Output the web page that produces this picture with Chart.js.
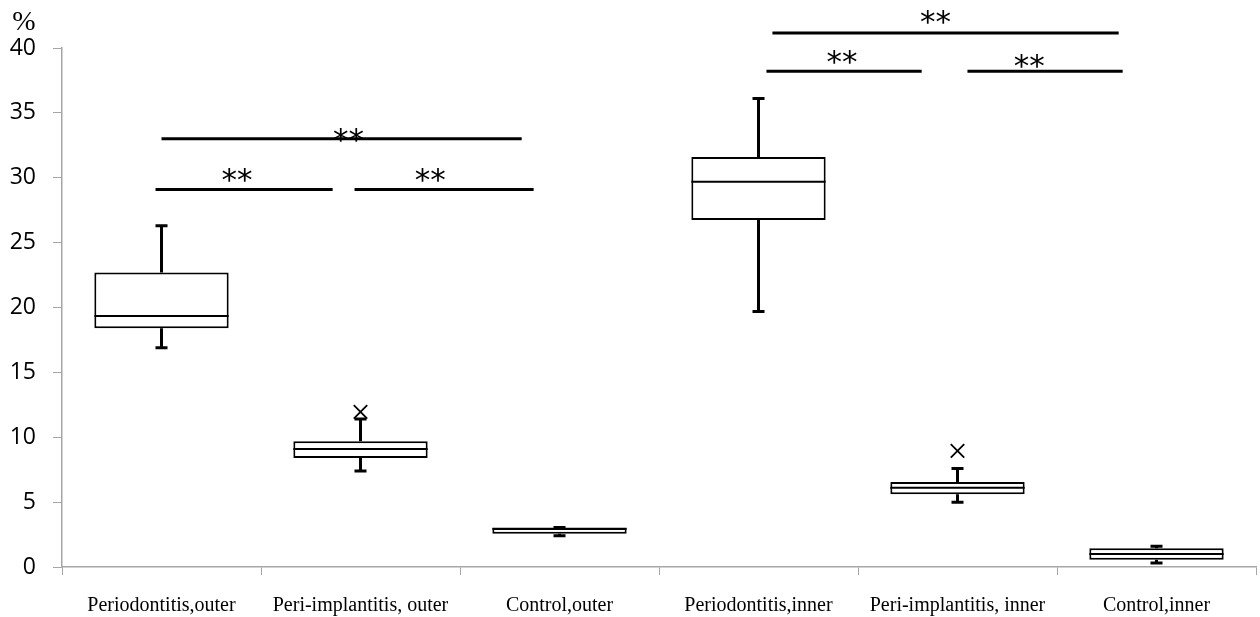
<!DOCTYPE html>
<html>
<head>
<meta charset="UTF-8">
<title>Box plot</title>
<script src="https://cdn.jsdelivr.net/npm/chart.js@4.4.1/dist/chart.umd.min.js"></script>
<style>
  html, body { margin: 0; padding: 0; background: #fff; }
  #wrap { width: 1260px; height: 617px; }
</style>
</head>
<body>
<div id="wrap"><canvas id="myChart" width="1260" height="617"></canvas></div>
<script>
var categories = ['Periodontitis,outer', 'Peri-implantitis, outer', 'Control,outer',
                  'Periodontitis,inner', 'Peri-implantitis, inner', 'Control,inner'];
var whiskerLow  = [16.9, 7.4, 2.4, 19.7, 5.0, 0.3];
var q1          = [18.4, 8.4, 2.57, 26.75, 5.6, 0.55];
var median      = [19.35, 9.1, 2.95, 29.7, 6.1, 1.0];
var q3          = [22.7, 9.7, 3.0, 31.6, 6.55, 1.45];
var whiskerHigh = [26.3, 11.4, 3.05, 36.1, 7.6, 1.6];
var outliers    = [null, 11.95, null, null, 8.95, null];
var yTicks      = [0, 5, 10, 15, 20, 25, 30, 35, 40];

// significance lines: from / to (category index), level, star position
var sigFrom  = [-0.03, 0.97, 0.0, 3.04, 4.05, 3.07];
var sigTo    = [0.86, 1.87, 1.81, 3.82, 4.83, 4.81];
var sigLevel = [29.1, 29.1, 33.0, 38.2, 38.2, 41.15];
var sigStarX = [0.38, 1.35, 0.94, 3.42, 4.36, 3.89];
var sigStarY = [30.1, 30.1, 33.2, 39.2, 38.9, 42.3];
var sigText  = ['**', '**', '**', '**', '**', '**'];

var boxes = categories.map(function (c, i) { return [q1[i], q3[i]]; });

var boxPlugin = {
  id: 'boxExtras',
  afterDatasetsDraw: function (chart) {
    var ctx = chart.ctx, x = chart.scales.x, y = chart.scales.y;
    var bar = chart.getDatasetMeta(0).data;
    ctx.save();
    ctx.strokeStyle = '#000';
    for (var i = 0; i < categories.length; i++) {
      var cx = x.getPixelForValue(i);
      var half = bar[i].width / 2;
      // whiskers
      ctx.lineWidth = 3;
      ctx.beginPath();
      ctx.moveTo(cx, y.getPixelForValue(q3[i]));
      ctx.lineTo(cx, y.getPixelForValue(whiskerHigh[i]));
      ctx.moveTo(cx, y.getPixelForValue(q1[i]));
      ctx.lineTo(cx, y.getPixelForValue(whiskerLow[i]));
      ctx.moveTo(cx - 6, y.getPixelForValue(whiskerHigh[i]));
      ctx.lineTo(cx + 6, y.getPixelForValue(whiskerHigh[i]));
      ctx.moveTo(cx - 6, y.getPixelForValue(whiskerLow[i]));
      ctx.lineTo(cx + 6, y.getPixelForValue(whiskerLow[i]));
      ctx.stroke();
      // median
      ctx.lineWidth = 2;
      ctx.beginPath();
      ctx.moveTo(cx - half, y.getPixelForValue(median[i]));
      ctx.lineTo(cx + half, y.getPixelForValue(median[i]));
      ctx.stroke();
    }
    // significance lines
    ctx.lineWidth = 3;
    ctx.fillStyle = '#000';
    ctx.font = '31px "DejaVu Sans"';
    ctx.textAlign = 'center';
    ctx.textBaseline = 'middle';
    for (var k = 0; k < sigFrom.length; k++) {
      var ly = y.getPixelForValue(sigLevel[k]);
      ctx.beginPath();
      ctx.moveTo(x.getPixelForValue(sigFrom[k]), ly);
      ctx.lineTo(x.getPixelForValue(sigTo[k]), ly);
      ctx.stroke();
      ctx.fillText(sigText[k], x.getPixelForValue(sigStarX[k]), y.getPixelForValue(sigStarY[k]) + 6);
    }
    // unit label
    ctx.font = '28px "Liberation Serif"';
    ctx.textAlign = 'center';
    ctx.fillText('%', y.right - 38, y.top - 25);
    ctx.restore();
  }
};

var ctx = document.getElementById('myChart').getContext('2d');
var chart = new Chart(ctx, {
  type: 'bar',
  data: {
    labels: categories,
    datasets: [{
      data: boxes,
      backgroundColor: '#fff',
      borderColor: '#000',
      borderWidth: 2,
      borderSkipped: false,
      barPercentage: 0.675,
      categoryPercentage: 1
    }, {
      type: 'line',
      data: outliers,
      showLine: false,
      pointStyle: 'crossRot',
      pointRadius: 9.5,
      pointBorderWidth: 1.8,
      pointBorderColor: '#000',
      pointBackgroundColor: '#000'
    }]
  },
  options: {
    responsive: false,
    animation: false,
    layout: { autoPadding: false, padding: { top: 48, right: 4, left: 0, bottom: 0 } },
    plugins: { legend: { display: false }, tooltip: { enabled: false } },
    scales: {
      x: {
        grid: { drawOnChartArea: false, tickLength: 8, color: '#a6a6a6', offset: true },
        border: { color: '#a6a6a6', width: 1.5 },
        ticks: { color: '#000', font: { family: 'Liberation Serif', size: 20 }, padding: 19, maxRotation: 0 },
        afterFit: function (s) { s.height = 50; s.paddingLeft = 0; s.paddingRight = 0; }
      },
      y: {
        min: 0,
        max: 40,
        afterBuildTicks: function (s) { s.ticks = yTicks.map(function (v) { return { value: v }; }); },
        grid: { drawOnChartArea: false, tickLength: 9, color: '#a6a6a6' },
        border: { color: '#a6a6a6', width: 1.5 },
        ticks: { color: '#000', font: { family: 'Open Sans', size: 23 }, padding: 17 },
        afterFit: function (s) { s.width = 62; }
      }
    }
  },
  plugins: [boxPlugin]
});
</script>
</body>
</html>
